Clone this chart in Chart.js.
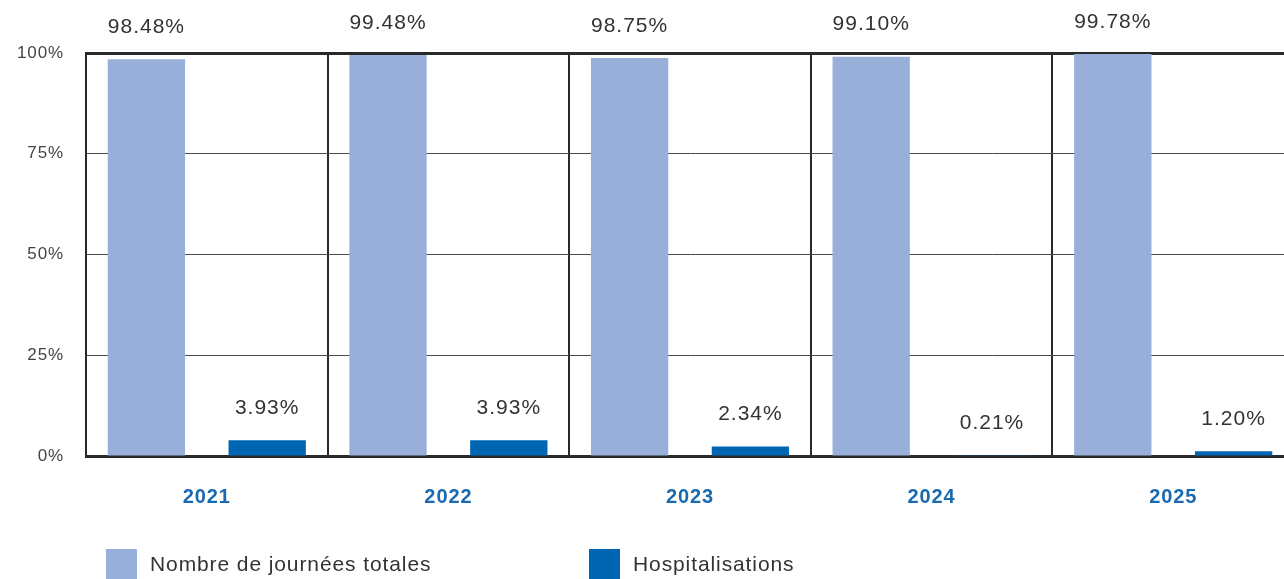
<!DOCTYPE html>
<html lang="fr">
<head>
  <meta charset="UTF-8">
  <title>Journées totales et hospitalisations</title>
  <script src="https://cdn.jsdelivr.net/npm/chart.js@4.4.1/dist/chart.umd.min.js"></script>
  <style>
  html, body {
    margin: 0;
    padding: 0;
    overflow: hidden;
    background: #fff;
  }
  .chart-container {
    position: relative;
    width: 1300px;
    height: 579px;
  }
  </style>
</head>
<body>
<div class="chart-container">
  <canvas id="mainChart"></canvas>
</div>

<script>
  // data
  var years = ['2021', '2022', '2023', '2024', '2025'];
  var journeesTotales = [98.48, 99.48, 98.75, 99.10, 99.78];
  var hospitalisations = [3.93, 3.93, 2.34, 0.21, 1.20];
  var seriesNames = ['Nombre de journées totales', 'Hospitalisations'];
  var yTicks = [0, 25, 50, 75, 100];

  var FONT = "'Liberation Sans', Arial, Helvetica, sans-serif";
  var LIGHT = '#98afda';
  var DARK = '#0066b3';

  // the reference font is a bit more spread out than Arial
  var tracking = {
    id: 'tracking',
    beforeDraw: function(chart) {
      chart.ctx.letterSpacing = '0.9px';
    }
  };

  // value labels above each bar
  var valueLabels = {
    id: 'valueLabels',
    afterDatasetsDraw: function(chart) {
      var ctx = chart.ctx;
      ctx.save();
      ctx.letterSpacing = '1px';
      ctx.font = '21px ' + FONT;
      ctx.fillStyle = '#333';
      ctx.textAlign = 'center';
      ctx.textBaseline = 'middle';
      chart.data.datasets.forEach(function(ds, di) {
        chart.getDatasetMeta(di).data.forEach(function(bar, i) {
          ctx.fillText(ds.data[i].toFixed(2) + '%', bar.x, bar.y - 32);
        });
      });
      ctx.restore();
    }
  };

  // legend at the bottom, two items
  var bottomLegend = {
    id: 'bottomLegend',
    afterDraw: function(chart) {
      var ctx = chart.ctx;
      var items = [
        { x: 106, color: LIGHT, text: seriesNames[0] },
        { x: 589, color: DARK, text: seriesNames[1] }
      ];
      ctx.save();
      ctx.letterSpacing = '0.9px';
      ctx.font = '21px ' + FONT;
      ctx.textBaseline = 'middle';
      items.forEach(function(it) {
        ctx.fillStyle = it.color;
        ctx.fillRect(it.x, 549, 31, 32);
        ctx.fillStyle = '#333';
        ctx.fillText(it.text, it.x + 44, 565);
      });
      ctx.restore();
    }
  };

  var ctx = document.getElementById('mainChart');
  var theChart = new Chart(ctx, {
    type: 'bar',
    data: {
      labels: years,
      datasets: [{
        label: seriesNames[0],
        data: journeesTotales,
        backgroundColor: LIGHT,
        barPercentage: 0.64,
        categoryPercentage: 1.0
      },
      {
        label: seriesNames[1],
        data: hospitalisations,
        backgroundColor: DARK,
        barPercentage: 0.64,
        categoryPercentage: 1.0
      }]
    },
    options: {
      responsive: true,
      maintainAspectRatio: false,
      animation: false,
      layout: {
        padding: { top: 53, right: 6, bottom: 0, left: 0 }
      },
      plugins: {
        legend: { display: false },
        tooltip: { enabled: false }
      },
      scales: {
        x: {
          afterFit: function(scale) { scale.height = 123; },
          grid: {
            offset: true,
            color: '#2a2a2a',
            lineWidth: 2,
            drawTicks: false
          },
          border: { display: true, color: '#2a2a2a', width: 3 },
          ticks: {
            padding: 29,
            color: '#1a6ab1',
            font: { family: FONT, size: 20, weight: 'bold' }
          }
        },
        y: {
          min: 0,
          max: 100,
          afterFit: function(scale) { scale.width = 86; },
          afterBuildTicks: function(scale) {
            scale.ticks = yTicks.map(function(v) { return { value: v }; });
          },
          grid: {
            drawTicks: false,
            color: function(c) { return c.tick && c.tick.value === 100 ? '#2a2a2a' : '#4a4a4a'; },
            lineWidth: function(c) { return c.tick && c.tick.value === 100 ? 3 : 1; }
          },
          border: { display: true, color: '#2a2a2a', width: 2 },
          ticks: {
            padding: 22,
            color: '#444',
            font: { family: FONT, size: 17 },
            callback: function(v) { return v + '%'; }
          }
        }
      }
    },
    plugins: [tracking, valueLabels, bottomLegend]
  });
</script>
</body>
</html>
